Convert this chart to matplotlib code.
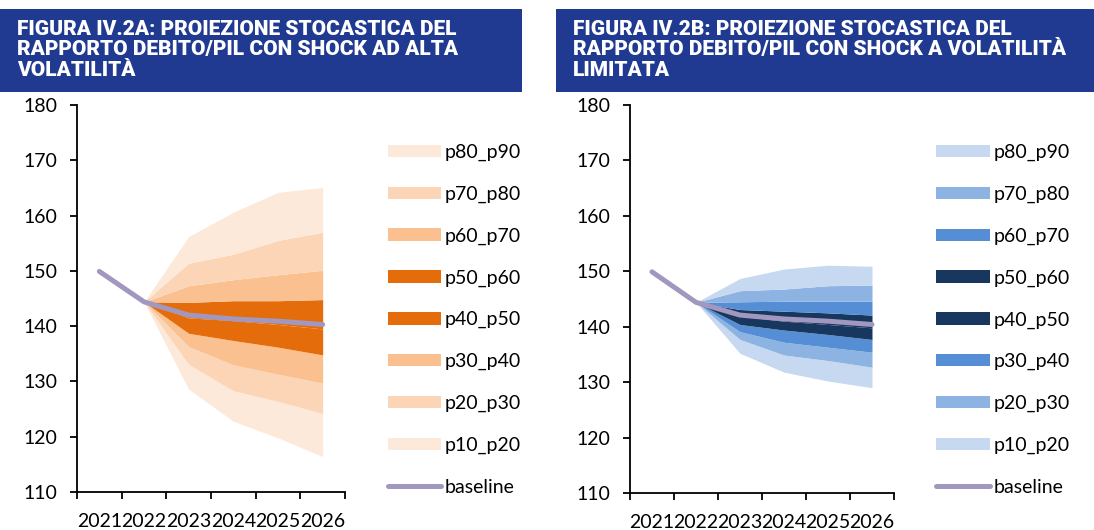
import matplotlib
matplotlib.use("Agg")
import matplotlib.pyplot as plt
from matplotlib.patches import Rectangle, Patch
from matplotlib.lines import Line2D
import numpy as np

years = ["2021", "2022", "2023", "2024", "2025", "2026"]
baseline_a = [149.9, 144.4, 142.0, 141.3, 140.9, 140.3]
baseline_b = [149.9, 144.4, 142.1, 141.4, 141.0, 140.4]

# percentiles from 2022 onward (2022..2026)
pa = {
    "p10": [144.4, 128.6, 122.8, 119.8, 116.4],
    "p20": [144.4, 133.1, 128.3, 126.4, 124.2],
    "p30": [144.4, 136.3, 133.0, 131.3, 129.7],
    "p40": [144.4, 138.7, 137.4, 136.2, 134.8],
    "p50": [144.4, 141.5, 141.0, 140.3, 139.5],
    "p60": [144.4, 144.3, 144.6, 144.6, 144.8],
    "p70": [144.4, 147.3, 148.4, 149.3, 150.1],
    "p80": [144.4, 151.4, 153.0, 155.5, 157.0],
    "p90": [144.4, 156.2, 160.6, 164.2, 165.1],
}
pb = {
    "p10": [144.4, 135.2, 131.8, 130.2, 129.0],
    "p20": [144.4, 137.7, 134.9, 133.9, 132.7],
    "p30": [144.4, 139.1, 137.2, 136.3, 135.4],
    "p40": [144.4, 140.4, 139.4, 138.6, 137.7],
    "p50": [144.4, 141.9, 141.0, 140.4, 139.8],
    "p60": [144.4, 143.1, 142.8, 142.5, 142.1],
    "p70": [144.4, 144.5, 144.6, 144.6, 144.6],
    "p80": [144.4, 146.5, 146.8, 147.4, 147.5],
    "p90": [144.4, 148.7, 150.4, 151.1, 150.9],
}
band_labels = ["p80_p90", "p70_p80", "p60_p70", "p50_p60",
               "p40_p50", "p30_p40", "p20_p30", "p10_p20"]
colors_a = {"p80_p90": "#FDE9D9", "p70_p80": "#FBD5B5", "p60_p70": "#FAC090",
            "p50_p60": "#E46C0A", "p40_p50": "#E46C0A", "p30_p40": "#FAC090",
            "p20_p30": "#FBD5B5", "p10_p20": "#FDE9D9"}
colors_b = {"p80_p90": "#C6D9F1", "p70_p80": "#8DB3E2", "p60_p70": "#558ED5",
            "p50_p60": "#17375E", "p40_p50": "#17375E", "p30_p40": "#558ED5",
            "p20_p30": "#8DB3E2", "p10_p20": "#C6D9F1"}
base_color = "#A297BE"
titles = ["FIGURA IV.2A: PROIEZIONE STOCASTICA DEL\nRAPPORTO DEBITO/PIL CON SHOCK AD ALTA\nVOLATILITÀ",
          "FIGURA IV.2B: PROIEZIONE STOCASTICA DEL\nRAPPORTO DEBITO/PIL CON SHOCK A VOLATILITÀ\nLIMITATA"]
yticks = [110, 120, 130, 140, 150, 160, 170, 180]

W, H = 1094, 530
fig = plt.figure(figsize=(W / 100, H / 100), dpi=100)
font = "Lato"
title_font = ["Roboto", "DejaVu Sans"]
navy = "#203A92"

def draw(ax_rect, band_rect, title, pct, baseline, colors):
    fig.add_artist(Rectangle((band_rect[0] / W, 1 - band_rect[3] / H),
                             (band_rect[2] - band_rect[0]) / W,
                             (band_rect[3] - band_rect[1]) / H,
                             transform=fig.transFigure, color=navy, lw=0))
    fig.text((band_rect[0] + 17) / W, 1 - (band_rect[1] + 11) / H, title,
             color="white", fontsize=15, fontweight="heavy", family=title_font,
             va="top", ha="left", linespacing=1.1)
    ax = fig.add_axes(ax_rect)
    x = np.arange(len(years))
    xs = x[1:]
    order = ["p10", "p20", "p30", "p40", "p50", "p60", "p70", "p80", "p90"]
    for i in range(len(order) - 1):
        lo, hi = order[i], order[i + 1]
        lab = f"{lo}_{hi}"
        ax.fill_between(xs, pct[lo], pct[hi], color=colors[lab], lw=0)
    ax.plot(x, baseline, color=base_color, lw=3.6, solid_capstyle="round")
    ax.set_xlim(-0.5, len(years) - 0.5)
    ax.set_ylim(110, 180)
    ax.set_yticks(yticks)
    ax.set_xticks(np.arange(-0.5, len(years), 1.0))
    ax.set_xticklabels([])
    ax.set_xticks(x, minor=True)
    ax.set_xticklabels(years, minor=True)
    ax.tick_params(axis="x", which="minor", length=0, pad=15, labelsize=14)
    ax.tick_params(axis="x", which="major", length=5, width=1.3, direction="out")
    ax.tick_params(axis="y", length=5, width=1.3, labelsize=14, pad=9)
    for lab in ax.get_xticklabels(minor=True) + ax.get_yticklabels():
        lab.set_family(font)
    for s in ["top", "right"]:
        ax.spines[s].set_visible(False)
    for s in ["left", "bottom"]:
        ax.spines[s].set_linewidth(1.3)
    handles = [Patch(facecolor=colors[l], edgecolor="none") for l in band_labels]
    handles.append(Line2D([0], [0], color=base_color, lw=3.6, solid_capstyle="round"))
    leg = ax.legend(handles, band_labels + ["baseline"], loc="upper left",
                    bbox_to_anchor=(1.13, 0.92), frameon=False,
                    prop={"family": font, "size": 14}, handlelength=2.75,
                    handleheight=0.6, labelspacing=1.265, handletextpad=0.2,
                    borderaxespad=0)
    return ax

draw([77 / W, 1 - 492 / H, 268 / W, 387 / H], (0, 9, 522, 92), titles[0],
     pa, baseline_a, colors_a)
draw([630 / W, 1 - 493 / H, 264 / W, 388 / H], (556, 9, 1094, 92), titles[1],
     pb, baseline_b, colors_b)

fig.savefig("out.png", dpi=100)
